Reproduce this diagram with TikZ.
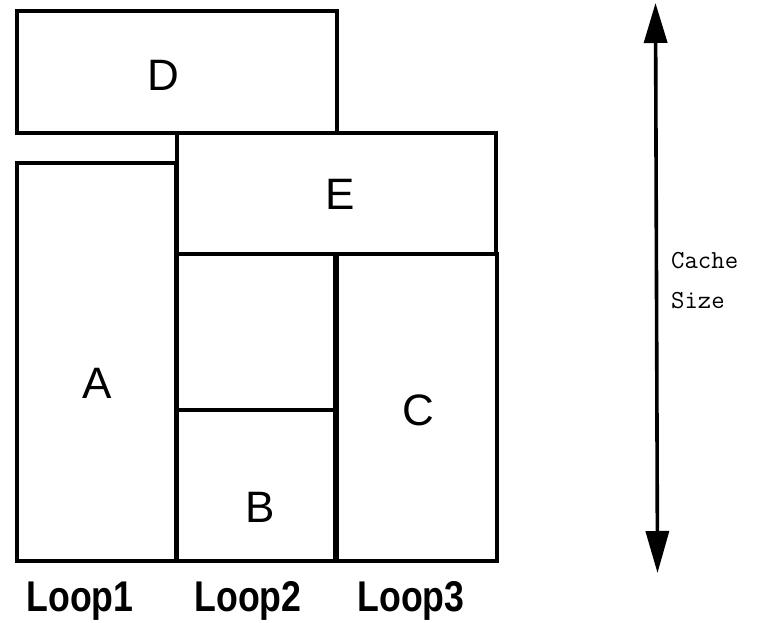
\documentclass[tikz,border=0pt]{standalone}
\usepackage{fontspec}
\setmainfont{Liberation Sans}
\usetikzlibrary{arrows.meta}
\begin{document}
\begin{tikzpicture}[x=1pt,y=-1pt,
  box/.style={draw=black, line width=3.6pt, rectangle, inner sep=0pt, outer sep=0pt},
  lbl/.style={font=\fontsize{44}{44}\selectfont, inner sep=0pt},
  looplbl/.style={font=\bfseries\fontsize{43}{43}\selectfont, inner sep=0pt, xscale=0.83, anchor=base},
  sizelbl/.style={font=\ttfamily\fontsize{26}{40}\selectfont, align=left, inner sep=0pt, anchor=west}
]
\useasboundingbox (0,0) rectangle (781,623);
% boxes
\node[box, minimum width=320pt, minimum height=122pt] (D) at (177,72) {};
\node[box, minimum width=319pt, minimum height=121pt] (E) at (336.5,193.5) {};
\node[box, minimum width=159pt, minimum height=398pt] (A) at (96.5,362) {};
\node[box, minimum width=158pt, minimum height=156pt] (F) at (256,332) {};
\node[box, minimum width=158pt, minimum height=151pt] (B) at (256,485.5) {};
\node[box, minimum width=160pt, minimum height=307pt] (C) at (417,407.5) {};
% labels
\node[lbl] (lD) at (163,75) {D};
\node[lbl] (lE) at (340,194) {E};
\node[lbl] (lA) at (97,383) {A};
\node[lbl] (lB) at (260,507) {B};
\node[lbl] (lC) at (418,410) {C};
% loop labels
\node[looplbl] (l1) at (80,611) {Loop1};
\node[looplbl] (l2) at (248,611) {Loop2};
\node[looplbl] (l3) at (411,611) {Loop3};
% arrow
\coordinate (top) at (655.5,3);
\coordinate (bot) at (657.5,573);
\draw[line width=3.6pt, {Triangle[length=40pt,width=23pt]}-{Triangle[length=42pt,width=23pt]}] (top) -- (bot);
\node[sizelbl] (cs) at (671,281) {Cache\\Size};
\end{tikzpicture}
\end{document}
